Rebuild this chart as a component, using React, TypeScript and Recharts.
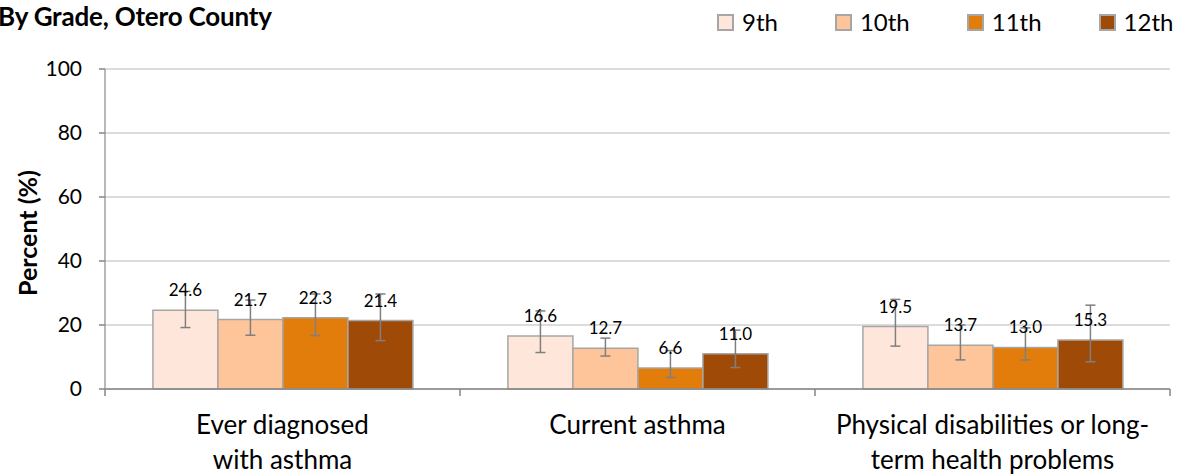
import React from 'react';
import { BarChart, Bar, XAxis, YAxis, CartesianGrid, ErrorBar, LabelList } from 'recharts';

const categories = [
  'Ever diagnosed\nwith asthma',
  'Current asthma',
  'Physical disabilities or long-\nterm health problems',
];
const grades = ['9th', '10th', '11th', '12th'];
const colors = ['#FEE6DA', '#FEC49A', '#E27C0B', '#A04A07'];

const values9 = [24.6, 16.6, 19.5];
const lower9 = [19.2, 11.4, 13.4];
const upper9 = [30.5, 24.4, 28.0];

const values10 = [21.7, 12.7, 13.7];
const lower10 = [16.8, 10.3, 9.1];
const upper10 = [27.8, 15.9, 20.0];

const values11 = [22.3, 6.6, 13.0];
const lower11 = [16.7, 3.6, 9.1];
const upper11 = [29.7, 12.0, 19.1];

const values12 = [21.4, 11.0, 15.3];
const lower12 = [15.1, 6.7, 8.5];
const upper12 = [29.7, 18.4, 26.2];

const yTicks = [0, 20, 40, 60, 80, 100];

const series = [
  { key: 'g9', v: values9, lo: lower9, hi: upper9 },
  { key: 'g10', v: values10, lo: lower10, hi: upper10 },
  { key: 'g11', v: values11, lo: lower11, hi: upper11 },
  { key: 'g12', v: values12, lo: lower12, hi: upper12 },
];

const data = categories.map((c, i) => {
  const row: any = { name: c };
  series.forEach((s) => {
    row[s.key] = s.v[i];
    row[s.key + 'e'] = [s.v[i] - s.lo[i], s.hi[i] - s.v[i]];
  });
  return row;
});

const FONT = 'Lato, "Open Sans", sans-serif';

const XTick = (props: any) => {
  const { x, y, payload, index, visibleTicksCount } = props;
  const lines = String(payload.value).split('\n');
  const half = payload.offset ?? 177.5;
  return (
    <g>
      <line x1={x - half} y1={y} x2={x - half} y2={y + 7} stroke="#868686" strokeWidth={1.5} />
      {index === visibleTicksCount - 1 && (
        <line x1={x + half} y1={y} x2={x + half} y2={y + 7} stroke="#868686" strokeWidth={1.5} />
      )}
      <text x={x} y={y} textAnchor="middle" fontFamily={FONT} fontSize={26} fill="#000">
        {lines.map((l, i) => (
          <tspan key={i} x={x} y={y + 45 + i * 35}>
            {l}
          </tspan>
        ))}
      </text>
    </g>
  );
};

const YLabel = (props: any) => {
  const vb = props.viewBox || { x: 0, y: 69, width: 105, height: 320 };
  const cx = 31;
  const cy = vb.y + vb.height / 2 + 4;
  return (
    <text
      x={cx}
      y={cy}
      transform={`rotate(-90 ${cx} ${cy})`}
      textAnchor="middle"
      dominantBaseline="middle"
      fontFamily={FONT}
      fontWeight="bold"
      fontSize={25}
      fill="#000"
    >
      Percent (%)
    </text>
  );
};

export default function App() {
  return (
    <div style={{ position: 'absolute', left: 0, top: 0, width: 1178, height: 474, background: '#fff', fontFamily: FONT }}>
      <div
        style={{
          position: 'absolute',
          left: -2,
          top: 0,
          fontSize: 26,
          fontWeight: 'bold',
          color: '#000',
          whiteSpace: 'nowrap',
          letterSpacing: -0.2,
        }}
      >
        By Grade, Otero County
      </div>
      <div style={{ position: 'absolute', left: 717, top: 8, display: 'flex' }}>
        {grades.map((g, i) => (
          <div
            key={g}
            style={{ display: 'flex', alignItems: 'center', height: 28, marginRight: i < grades.length - 1 ? 57 : 0 }}
          >
            <div
              style={{
                width: 13,
                height: 13,
                background: colors[i],
                border: '2px solid #A6A6A6',
                marginRight: 8,
              }}
            />
            <span style={{ fontSize: 24, color: '#000', lineHeight: '28px' }}>{g}</span>
          </div>
        ))}
      </div>
      <BarChart
        width={1178}
        height={474}
        data={data}
        margin={{ top: 69, right: 8, bottom: 0, left: 0 }}
        barCategoryGap="13.5%"
        barGap={0}
      >
        <CartesianGrid vertical={false} stroke="#D0D0D0" strokeWidth={1.5} />
        <XAxis
          dataKey="name"
          height={85}
          interval={0}
          tickSize={0}
          tickMargin={0}
          tickLine={false}
          axisLine={{ stroke: '#868686', strokeWidth: 1.5 }}
          tick={<XTick />}
        />
        <YAxis
          width={105}
          domain={[0, 100]}
          ticks={yTicks}
          interval={0}
          tickSize={6}
          tickMargin={17}
          tickLine={{ stroke: '#868686', strokeWidth: 1.5 }}
          axisLine={{ stroke: '#A0A0A0', strokeWidth: 1.5 }}
          tick={{ fontFamily: FONT, fontSize: 21, fill: '#000' }}
          label={<YLabel />}
        />
        {series.map((s, i) => (
          <Bar
            key={s.key}
            dataKey={s.key}
            fill={colors[i]}
            stroke="#A6A6A6"
            strokeWidth={1.5}
            isAnimationActive={false}
          >
            <LabelList
              dataKey={s.key}
              position="top"
              offset={14}
              formatter={(v: any) => Number(v).toFixed(1)}
              style={{ fontFamily: FONT, fontSize: 17, fill: '#000' }}
            />
            <ErrorBar dataKey={s.key + 'e'} width={5} stroke="#7F7F7F" strokeWidth={1.5} direction="y" />
          </Bar>
        ))}
      </BarChart>
    </div>
  );
}
